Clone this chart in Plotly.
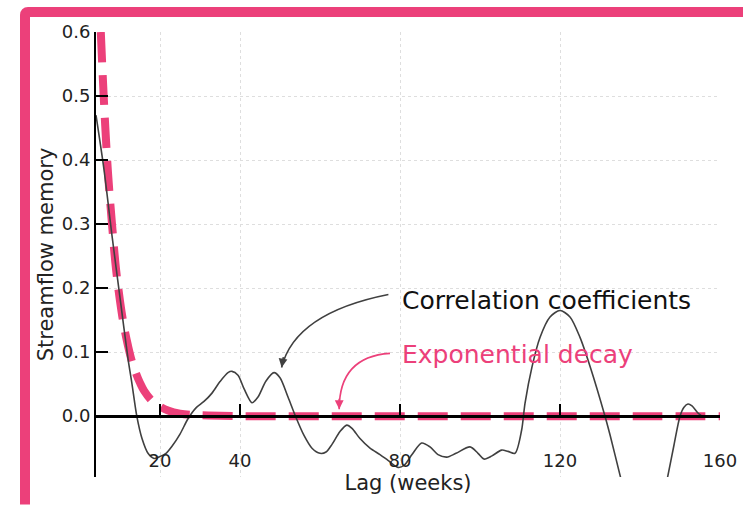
import plotly.graph_objects as go

# ---- data ---------------------------------------------------------------
lag_weeks = [4, 6, 8, 10, 12, 13, 14.2, 15.5, 17, 18.5, 20, 21.5, 23, 25, 27,
             29, 31, 33, 35, 37, 38, 39.5, 41, 43, 44.5, 46.5, 48.5, 50, 52,
             54, 56, 58, 60, 61.5, 63, 65, 66.7, 68, 70, 72.5, 75, 77, 79.5,
             81, 83, 85.4, 87.5, 89.5, 91.7, 94, 97.5, 99.5, 101, 103, 105.4,
             107, 108.75, 110.4, 111.25, 113, 115, 117.5, 120, 122.5, 125,
             127.5, 131.25, 132.5, 135, 137, 141, 145, 147, 148.5, 150,
             151, 152, 153, 154.5, 155.5]
correlation = [0.47, 0.385, 0.282, 0.185, 0.09, 0.05, 0.0, -0.035, -0.058,
               -0.066, -0.063, -0.058, -0.047, -0.028, -0.004, 0.013, 0.023,
               0.036, 0.054, 0.068, 0.07, 0.064, 0.043, 0.021, 0.03, 0.055,
               0.068, 0.06, 0.03, -0.002, -0.03, -0.05, -0.058, -0.056,
               -0.044, -0.024, -0.014, -0.019, -0.035, -0.05, -0.06, -0.069,
               -0.08, -0.077, -0.06, -0.042, -0.048, -0.06, -0.064, -0.058,
               -0.048, -0.058, -0.067, -0.062, -0.053, -0.055, -0.058, -0.022,
               0.02, 0.077, 0.123, 0.155, 0.165, 0.155, 0.123, 0.078,
               0.0, -0.029, -0.092, -0.14, -0.2, -0.15, -0.092, -0.045, 0.0,
               0.014, 0.019, 0.016, 0.005, 0.0]

exp_lag = [5.2, 6, 7, 8, 9, 10, 11, 12, 13, 14, 15, 16, 18, 20, 22, 25, 28,
           32, 40, 60, 80, 100, 120, 140, 160]
exp_decay = [0.6, 0.49, 0.38, 0.30, 0.23, 0.18, 0.14, 0.11, 0.085, 0.067,
             0.052, 0.040, 0.024, 0.015, 0.009, 0.004, 0.002, 0.001, 0, 0, 0,
             0, 0, 0, 0]

x_ticks = [20, 40, 80, 120, 160]
y_ticks = [0.0, 0.1, 0.2, 0.3, 0.4, 0.5, 0.6]
X_RANGE = [4, 160]
Y_RANGE = [-0.095, 0.6]

# ---- styling ------------------------------------------------------------
PINK = "#EC407A"
GREY = "#404040"
INK = "#222222"
GRID = "#dedede"
FONT = "DejaVu Sans"

W, H = 743, 505
M_L, M_R, M_T, M_B = 96, 23, 32, 28
PLOT_W = W - M_L - M_R
PLOT_H = H - M_T - M_B


def paper_x(px):
    return (px - M_L) / PLOT_W


def paper_y(py):
    return (H - M_B - py) / PLOT_H


fig = go.Figure()

fig.add_trace(go.Scatter(
    x=exp_lag, y=exp_decay, mode="lines",
    line=dict(color=PINK, width=8, dash="30px,13px", shape="spline"),
    hoverinfo="skip",
))
fig.add_trace(go.Scatter(
    x=lag_weeks, y=correlation, mode="lines",
    line=dict(color=GREY, width=1.6, shape="spline", smoothing=0.8),
    hoverinfo="skip",
))

# curved callout arrows (quadratic Bezier in data space)
corr_from, corr_ctrl, corr_tip = (77.1, 0.19), (53.75, 0.161), (50.4, 0.076)
exp_from, exp_ctrl, exp_tip = (77.5, 0.098), (64.8, 0.093), (64.8, 0.011)


def bezier(p0, c, p1):
    return f"M {p0[0]},{p0[1]} Q {c[0]},{c[1]} {p1[0]},{p1[1]}"


shapes = [
    dict(type="path", xref="x", yref="y", path=bezier(corr_from, corr_ctrl, corr_tip),
         line=dict(color=GREY, width=1.6)),
    dict(type="path", xref="x", yref="y", path=bezier(exp_from, exp_ctrl, exp_tip),
         line=dict(color=PINK, width=1.6)),
]

# frame around the whole figure (extends past the right and bottom edges)
fl, ft, fr, fb, rad = 25, 12, 775, 504.5, 3
frame_path = (
    f"M {paper_x(fl)},{paper_y(fb)} "
    f"L {paper_x(fl)},{paper_y(ft + rad)} "
    f"Q {paper_x(fl)},{paper_y(ft)} {paper_x(fl + rad)},{paper_y(ft)} "
    f"L {paper_x(fr)},{paper_y(ft)}"
)
shapes.append(dict(type="path", xref="paper", yref="paper", path=frame_path,
                   line=dict(color=PINK, width=10)))

annotations = [
    dict(x=80, y=0.181, xref="x", yref="y", text="Correlation coefficients",
         showarrow=False, xanchor="left", yanchor="middle",
         font=dict(family=FONT, size=25, color="#111111")),
    dict(x=80, y=0.097, xref="x", yref="y", text="Exponential decay",
         showarrow=False, xanchor="left", yanchor="middle",
         font=dict(family=FONT, size=25, color=PINK)),
    dict(x=corr_tip[0], y=corr_tip[1], xref="x", yref="y", text="",
         showarrow=True, ax=2, ay=-12, arrowhead=2, arrowsize=1.1,
         arrowwidth=1.6, arrowcolor=GREY, standoff=0),
    dict(x=exp_tip[0], y=exp_tip[1], xref="x", yref="y", text="",
         showarrow=True, ax=0, ay=-12, arrowhead=2, arrowsize=1.1,
         arrowwidth=1.6, arrowcolor=PINK, standoff=0),
]

zero_pos = (0 - Y_RANGE[0]) / (Y_RANGE[1] - Y_RANGE[0])

fig.update_layout(
    width=W, height=H,
    margin=dict(l=M_L, r=M_R, t=M_T, b=M_B, pad=0),
    paper_bgcolor="white", plot_bgcolor="white",
    showlegend=False,
    font=dict(family=FONT, size=18, color=INK),
    shapes=shapes,
    annotations=annotations,
    xaxis=dict(
        range=X_RANGE, tickvals=x_ticks, ticktext=[str(v) for v in x_ticks],
        anchor="free", position=zero_pos,
        showline=True, linecolor="black", linewidth=2.5,
        ticks="inside", ticklen=11, tickwidth=2, tickcolor="black",
        ticklabelstandoff=27,
        showgrid=True, gridcolor=GRID, gridwidth=1, griddash="dot",
        zeroline=False, layer="above traces", automargin=False,
        tickfont=dict(size=18, color=INK),
        title=dict(text="Lag (weeks)", font=dict(size=21, color=INK), standoff=1),
    ),
    yaxis=dict(
        range=Y_RANGE, tickvals=y_ticks, tickformat=".1f",
        showline=True, linecolor="black", linewidth=2,
        ticks="inside", ticklen=12, tickwidth=2, tickcolor="black",
        showgrid=True, gridcolor=GRID, gridwidth=1, griddash="dot",
        zeroline=False, layer="above traces", automargin=False,
        tickfont=dict(size=18, color=INK),
        title=dict(text="Streamflow memory", font=dict(size=21, color=INK), standoff=2),
    ),
)

fig.write_html("out.html")
